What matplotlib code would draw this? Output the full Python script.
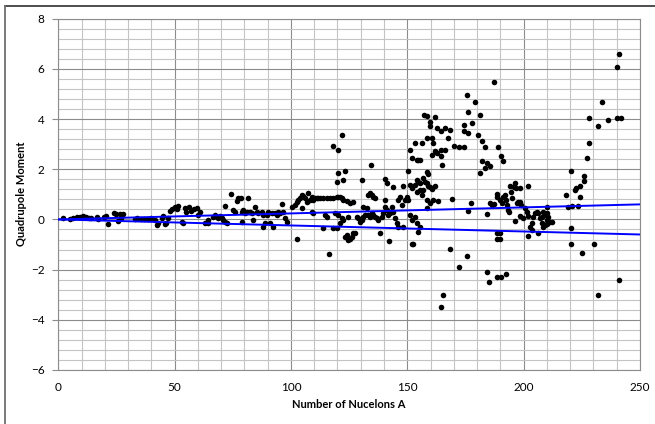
import matplotlib
matplotlib.use("Agg")
import matplotlib.pyplot as plt
from matplotlib.lines import Line2D
from matplotlib.ticker import MultipleLocator

# (A, Q) pairs, grouped by mass region
light = [
    (2, 0.04), (5, 0.02), (6.5, 0.06), (8, 0.1), (9.5, 0.1), (10.5, 0.12), (11, 0.08),
    (12, 0.1), (13, 0.06), (14, 0.06), (16.5, 0.08), (17, 0.03), (19.5, 0.1), (20.5, 0.15),
    (21.5, -0.19), (24, 0.24), (25, 0.2), (25.5, -0.05), (26.5, 0.22), (27, 0.04), (28, 0.2),
    (33, 0.0), (34, 0.05), (35.5, 0.0), (37, 0.03), (38.5, 0.0), (40, 0.05), (41.5, -0.02),
    (42.5, -0.22), (43, -0.15), (44.5, 0.05), (45, 0.12), (46, -0.2), (46.5, -0.15),
    (47.3, 0.05), (48, 0.35), (48.7, 0.4), (50, 0.5), (51, 0.42), (51.6, 0.55), (53, -0.1),
    (53.7, -0.15), (54.5, 0.45), (55, 0.3), (56, 0.5), (57, 0.35), (58.5, 0.4),
]

medium = [
    (59.5, 0.46), (60.2, 0.17), (60.9, 0.31), (63.0, -0.16), (64.5, -0.03), (64.5, -0.16),
    (66.6, 0.11), (67.3, 0.17), (68.0, 0.11), (68.8, 0.04), (69.5, 0.13), (70.2, 0.04),
    (70.9, -0.03), (71.6, -0.09), (72.3, -0.16), (71.6, 0.53), (74.2, 1.01), (75.2, 0.37),
    (75.9, 0.31), (76.6, 0.75), (77.4, 0.84), (78.5, 0.84), (78.8, 0.31), (78.8, -0.09),
    (79.5, 0.37), (80.2, 0.24), (80.9, 0.31), (81.7, 0.84), (82.4, 0.31), (83.1, 0.24),
    (83.8, -0.03), (84.6, 0.48), (85.3, 0.31), (86.0, 0.24), (87.4, 0.31), (88.1, 0.17),
    (88.1, -0.29), (88.8, -0.16), (89.6, 0.17), (90.3, 0.24), (90.3, 0.31), (91.0, -0.16),
    (91.7, 0.24), (92.4, -0.29), (93.2, 0.24), (93.9, 0.17), (94.6, 0.31), (95.3, 0.24),
    (96.3, 0.61), (96.7, 0.31), (97.4, 0.04), (98.2, -0.09), (100.3, 0.51), (101.7, 0.57),
    (102.4, 0.71), (103.2, 0.77), (103.9, 0.84), (104.6, 0.97), (105.3, 0.93), (106.0, 0.84),
    (106.7, 0.71), (107.5, 1.04), (108.2, 0.77), (108.9, 0.91), (109.6, 0.77), (110.3, 0.84),
    (111.1, 0.84), (111.8, 0.84), (104.6, 0.44), (108.9, 0.31), (109.6, 0.24),
    (113.9, -0.36), (102.4, -0.76),
]

heavy = [
    (112.5, 0.84), (113.9, 0.84), (115.4, 0.84), (116.8, 0.84), (118.2, 0.87), (119.7, 0.88),
    (120.4, 0.91), (121.1, 0.88), (121.8, 0.84), (122.5, 0.77), (124.0, 0.73), (125.4, 0.64),
    (126.8, 0.68), (114.6, 0.17), (115.4, 0.11), (118.2, -0.36), (118.9, 0.24),
    (119.7, -0.36), (120.4, 0.17), (121.1, -0.16), (121.8, 0.04), (122.5, -0.03),
    (123.2, -0.69), (124.0, -0.63), (124.7, -0.83), (124.7, 0.11), (125.4, -0.76),
    (126.1, -0.69), (126.8, -0.56), (127.5, -0.56), (128.3, 0.11), (129.0, 0.04),
    (129.7, -0.09), (130.4, -0.03), (131.1, 0.51), (131.1, 0.11), (131.8, 0.17), (132.5, 0.44),
    (133.3, 0.97), (134.0, 1.04), (134.7, 0.97), (135.4, 0.91), (136.1, 0.84), (133.3, 0.17),
    (134.0, 0.11), (134.7, 0.24), (135.4, 0.17), (136.1, 0.11), (136.8, 0.04), (137.6, -0.03),
    (138.3, -0.56), (139.0, 0.11), (139.7, 0.24), (140.4, 0.77), (140.4, 0.51), (141.1, 0.37),
    (141.9, 0.17), (142.6, 0.24), (143.3, 0.51), (144.0, 0.31), (144.7, 0.04), (145.4, -0.16),
    (146.2, -0.29), (146.2, 0.77), (146.9, 0.91), (147.6, 0.57), (148.3, -0.29), (149.0, 0.77),
    (149.7, 0.91), (150.4, 0.77), (151.2, 0.17), (151.9, -0.03), (151.9, -0.96),
    (152.6, -0.96), (153.3, 0.11), (154.0, -0.16), (154.7, -0.49), (155.5, -0.29),
    (118.2, 2.91), (120.4, 2.77), (121.8, 3.37), (120.4, 1.87), (123.2, 1.95), (119.7, 1.51),
    (122.2, 1.57), (130.4, 1.57), (134.3, 2.17), (140.4, 1.6), (141.1, 1.47), (144.0, 1.28),
    (150.4, 1.95), (148.3, 1.33), (151.2, 2.77), (151.9, 2.44), (153.3, 3.04), (154.0, 2.37),
    (154.7, 2.35), (155.5, 2.35), (156.2, 3.04), (157.2, 4.17), (158.6, 4.11), (159.8, 3.87),
    (159.8, 3.71), (158.3, 3.24), (160.5, 3.24), (161.2, 3.04), (160.5, 2.57), (158.3, 1.91),
    (159.0, 1.81), (154.0, 1.57), (154.7, 1.51), (155.5, 1.44), (156.9, 1.64), (157.6, 1.51),
    (158.3, 1.47), (159.0, 1.33), (159.8, 1.28), (160.5, 1.2), (156.9, 1.17), (154.0, 1.11),
    (155.5, 1.17), (151.2, 1.37), (151.9, 1.24), (153.3, 1.37), (156.2, 0.97), (158.3, 0.77),
    (161.2, 0.77), (159.8, 0.64), (158.3, 0.44),
]

rare_earth = [
    (161.9, 4.07), (162.6, 3.64), (164.5, 3.53), (166.2, 3.64), (168.3, 3.57), (167.6, 3.24),
    (161.9, 2.71), (162.6, 2.64), (164.5, 2.75), (166.2, 2.75), (164.5, 2.51), (165.0, 2.17),
    (170.2, 2.93), (172.2, 2.87), (174.5, 2.87), (174.5, 3.77), (174.5, 3.53), (175.5, 4.97),
    (176.2, 3.44), (176.2, 4.28), (177.9, 3.84), (179.1, 4.67), (181.2, 4.17), (180.5, 3.37),
    (182.2, 3.13), (183.4, 2.87), (182.2, 2.33), (184.1, 2.24), (183.4, 2.04), (181.2, 1.84),
    (185.5, 2.13), (187.4, 5.47), (189.1, 2.87), (190.3, 2.53), (191.3, 2.33), (161.9, 1.33),
    (163.3, 0.75), (169.3, 0.8), (177.4, 0.67), (176.2, 0.35), (184.1, 0.21), (185.5, 0.64),
    (186.2, 0.57), (187.4, 0.61), (188.4, 1.0), (188.4, 0.88), (189.8, 0.77), (190.5, 0.64),
    (191.3, 0.91), (192.0, 0.97), (192.3, 0.77), (192.7, 0.57), (193.1, 0.37), (193.7, 0.31),
    (194.1, 1.33), (194.6, 1.11), (195.1, 0.84), (196.0, 1.31), (196.3, 1.47), (196.6, 1.24),
    (197.0, 0.64), (197.7, 0.71), (198.4, 0.71), (198.4, 1.24), (198.9, 0.57), (196.3, -0.05),
    (198.4, 0.13), (199.8, 0.04), (200.6, 0.44), (201.3, 0.31), (202.0, 1.33), (202.0, 0.13),
    (202.7, -0.29), (203.4, -0.16), (204.1, 0.11), (204.9, 0.24), (205.6, 0.31), (206.3, 0.24),
    (207.0, 0.04), (207.7, 0.11), (208.4, 0.31), (209.2, 0.17), (209.9, -0.03),
    (207.7, -0.16), (208.4, -0.29), (209.2, -0.23), (206.3, -0.56), (203.4, -0.43),
    (202.0, -0.67), (188.4, -0.56), (188.4, -0.76), (189.8, -0.56), (189.8, -0.76),
    (168.3, -1.16),
]

actinides = [
    (241.1, 6.6), (240.0, 6.08), (233.8, 4.67), (228.2, 4.06), (236.1, 3.96), (240.0, 4.06),
    (241.9, 4.06), (231.8, 3.71), (228.2, 3.04), (227.1, 2.44), (220.4, 1.95), (226.1, 1.73),
    (226.1, 1.55), (224.1, 1.33), (222.4, 1.24), (222.1, 1.17), (224.1, 0.89), (218.1, 0.96),
    (219.2, 0.51), (220.9, 0.53), (223.2, 0.53), (220.4, -0.36), (220.4, -0.99),
    (230.2, -0.99), (209.9, 0.51), (209.9, 0.24), (210.6, 0.11), (211.3, -0.09),
    (212.1, -0.12), (209.9, -0.19),
]

oblate_tail = [
    (116.5, -1.39), (142.3, -0.85), (164.5, -3.49), (165.2, -3.0), (172.3, -1.88),
    (175.5, -1.45), (184.1, -2.08), (185.2, -2.51), (188.4, -2.29), (190.3, -2.29),
    (192.3, -2.19), (225.2, -1.35), (232.1, -3.0), (241.1, -2.4),
]

# the two straight blue guide lines
guide_a = [0, 250]
guide_upper = [0, 0.6]
guide_lower = [0, -0.6]

x_ticks = [0, 50, 100, 150, 200, 250]
y_ticks = [-6, -4, -2, 0, 2, 4, 6, 8]

plt.rcParams["font.family"] = ["Lato", "DejaVu Sans"]

fig = plt.figure(figsize=(6.55, 4.24), dpi=100)
ax = fig.add_axes([0.089, 0.1274, 0.888, 0.8285])

points = light + medium + heavy + rare_earth + actinides + oblate_tail
A = [p[0] for p in points]
Q = [p[1] for p in points]
ax.scatter(A, Q, s=16, color="black", linewidths=0, zorder=3)

ax.plot(guide_a, guide_upper, color="#0000ff", lw=1.4, zorder=4)
ax.plot(guide_a, guide_lower, color="#0000ff", lw=1.4, zorder=4)

ax.set_xlim(0, 250)
ax.set_ylim(-6, 8)
ax.set_xticks(x_ticks)
ax.set_yticks(y_ticks)
ax.xaxis.set_minor_locator(MultipleLocator(10))
ax.yaxis.set_minor_locator(MultipleLocator(0.4))
ax.grid(which="major", color="#8c8c8c", lw=0.8)
ax.grid(which="minor", color="#c4c4c4", lw=0.8)
ax.set_axisbelow(True)

ax.tick_params(axis="x", which="both", length=0, pad=9, labelsize=8.5, colors="#000000")
ax.tick_params(axis="y", which="major", length=4, width=0.8, color="#8c8c8c",
               pad=6, labelsize=8.5)
ax.tick_params(axis="y", which="minor", length=0)
for s in ax.spines.values():
    s.set_color("#8c8c8c")
    s.set_linewidth(0.8)

fig.text(0.5328, 1 - 405 / 424, "Number of Nucelons A", ha="center", va="center",
         fontsize=8, fontweight="bold")
fig.text(22 / 655, 1 - 194 / 424, "Quadrupole Moment", ha="center", va="center",
         rotation=90, fontsize=8, fontweight="bold")

# chart-area border (only the top and left edges show in the picture)
fig.add_artist(Line2D([5 / 655, 1.0], [1 - 6 / 424, 1 - 6 / 424],
                      transform=fig.transFigure, color="#404040", lw=1.3))
fig.add_artist(Line2D([5 / 655, 5 / 655], [0.0, 1 - 6 / 424],
                      transform=fig.transFigure, color="#707070", lw=1.3))

fig.savefig("out.png", dpi=100)
